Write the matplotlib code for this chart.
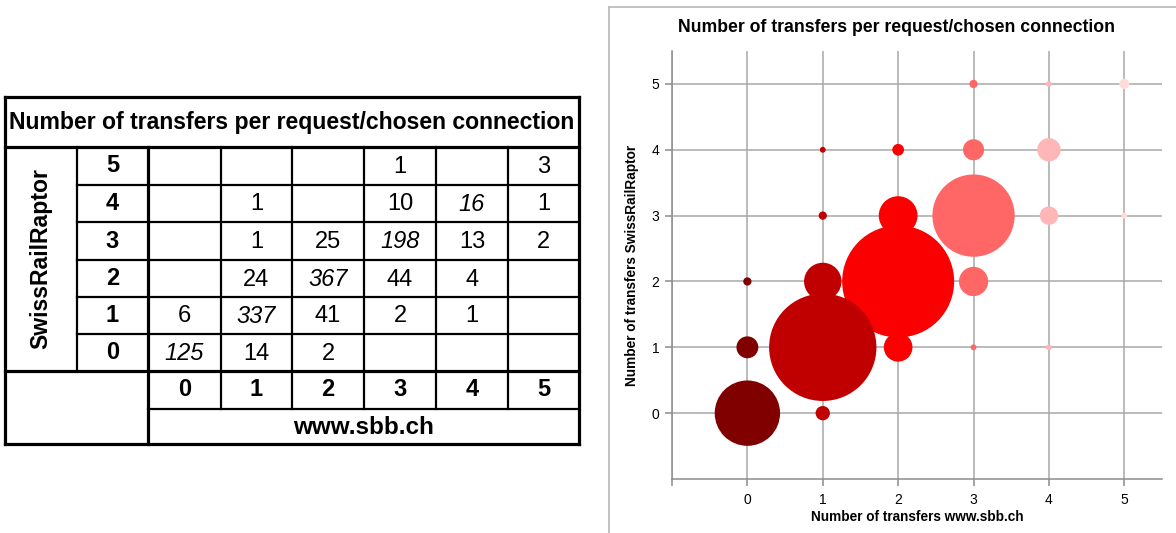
import matplotlib
matplotlib.use("Agg")
import matplotlib.pyplot as plt
import numpy as np

plt.rcParams['font.family'] = ['Liberation Sans', 'DejaVu Sans']

# counts per (SwissRailRaptor row, www.sbb.ch column); None = empty cell
transfers = [0, 1, 2, 3, 4, 5]
raptor_0 = [125, 14, 2, None, None, None]
raptor_1 = [6, 337, 41, 2, 1, None]
raptor_2 = [None, 24, 367, 44, 4, None]
raptor_3 = [None, 1, 25, 198, 13, 2]
raptor_4 = [None, 1, None, 10, 16, 1]
raptor_5 = [None, None, None, 1, None, 3]
italic_cells = [(0, 0), (1, 1), (2, 2), (3, 3), (4, 4)]

bubble_colors = ['#800000', '#c00000', '#fa0000', '#ff6666', '#ffb6b6', '#ffdcdc']

title = "Number of transfers per request/chosen connection"

counts = [raptor_0, raptor_1, raptor_2, raptor_3, raptor_4, raptor_5]

fig = plt.figure(figsize=(11.76, 5.33), dpi=100)

# ---- table, drawn in pixel coordinates over the whole figure ----
tax = fig.add_axes([0, 0, 1, 1])
tax.set_xlim(0, 1176)
tax.set_ylim(533, 0)
tax.axis('off')

xs = [5, 77, 148, 221, 292, 364, 436, 508, 579]
ys = [97, 147, 185, 222, 260, 297, 334, 371, 409, 444]
thick, thin = 2.3, 1.6

def hline(y, x0, x1, lw):
    tax.plot([x0, x1], [y, y], color='black', lw=lw, solid_capstyle='projecting')

def vline(x, y0, y1, lw):
    tax.plot([x, x], [y0, y1], color='black', lw=lw, solid_capstyle='projecting')

# outer border and section lines
hline(ys[0], xs[0], xs[-1], thick)
hline(ys[-1], xs[0], xs[-1], thick)
vline(xs[0], ys[0], ys[-1], thick)
vline(xs[-1], ys[0], ys[-1], thick)
hline(ys[1], xs[0], xs[-1], thick)
hline(ys[7], xs[0], xs[-1], thick)
vline(xs[2], ys[1], ys[-1], thick)
# inner lines
for y in ys[2:7]:
    hline(y, xs[1], xs[-1], thin)
hline(ys[8], xs[2], xs[-1], thin)
vline(xs[1], ys[1], ys[7], thin)
for x in xs[3:-1]:
    vline(x, ys[1], ys[8], thin)

fs = 17
tax.text((xs[0] + xs[-1]) / 2, (ys[0] + ys[1]) / 2, title, ha='center', va='center',
         fontsize=16.6, fontweight='bold')
tax.text((xs[0] + xs[1]) / 2, (ys[1] + ys[7]) / 2, 'SwissRailRaptor', rotation=90,
         ha='center', va='center', fontsize=16.6, fontweight='bold')
tax.text((xs[2] + xs[-1]) / 2, (ys[8] + ys[9]) / 2 + 1, 'www.sbb.ch', ha='center', va='center',
         fontsize=17.5, fontweight='bold')

for r in transfers:
    row_y = (ys[7 - r - 1] + ys[7 - r]) / 2
    tax.text((xs[1] + xs[2]) / 2, row_y, str(r), ha='center', va='center',
             fontsize=fs, fontweight='bold')
    for c in transfers:
        v = counts[r][c]
        if v is None:
            continue
        style = 'italic' if (r, c) in italic_cells else 'normal'
        tax.text((xs[2 + c] + xs[3 + c]) / 2, row_y + 1, str(v), ha='center', va='center',
                 fontsize=fs, fontstyle=style)
for c in transfers:
    tax.text((xs[2 + c] + xs[3 + c]) / 2, (ys[7] + ys[8]) / 2, str(c), ha='center',
             va='center', fontsize=fs, fontweight='bold')

# chart frame
frame_col = '#bdbdbd'
tax.plot([609, 609], [7, 533], color=frame_col, lw=1.3)
tax.plot([609, 1176], [7, 7], color=frame_col, lw=1.3)

# ---- bubble chart ----
ax = fig.add_axes([672 / 1176, 1 - 479 / 533, 490 / 1176, 428 / 533])
pts = []
for r in transfers:
    for c in transfers:
        v = counts[r][c]
        if v is not None:
            pts.append((r, c, v))
pts.sort(key=lambda p: -p[2])
bx = np.array([p[0] for p in pts])
by = np.array([p[1] for p in pts])
bv = np.array([p[2] for p in pts], dtype=float)
diam_px = 112 * np.sqrt(bv / 367.0)
sizes = (diam_px * 72 / 100) ** 2
ax.scatter(bx, by, s=sizes, c=[bubble_colors[x] for x in bx], linewidths=0, zorder=3)

ax.set_xlim(-1, 5.5)
ax.set_ylim(-1, 5.5)
ax.set_xticks(range(-1, 6))
ax.set_xticklabels([''] + [str(t) for t in transfers])
ax.set_yticks(transfers)
ax.grid(True, color='#a8a8a8', lw=1.1, zorder=0)
ax.set_axisbelow(True)
for s in ['top', 'right']:
    ax.spines[s].set_visible(False)
for s in ['left', 'bottom']:
    ax.spines[s].set_color('#8c8c8c')
    ax.spines[s].set_linewidth(1.1)
ax.tick_params(axis='both', colors='#8c8c8c', length=5, width=1.1, labelsize=10,
               labelcolor='black')
ax.tick_params(axis='x', pad=5)
ax.tick_params(axis='y', pad=4)
ax.set_xlabel('Number of transfers www.sbb.ch', fontsize=9.8, fontweight='bold', labelpad=2)
ax.set_ylabel('Number of transfers SwissRailRaptor', fontsize=9.8, fontweight='bold', labelpad=9)

fig.text(896 / 1176, 1 - 27 / 533, title, ha='center', va='center', fontsize=12.7,
         fontweight='bold')

fig.savefig('out.png', dpi=100)
